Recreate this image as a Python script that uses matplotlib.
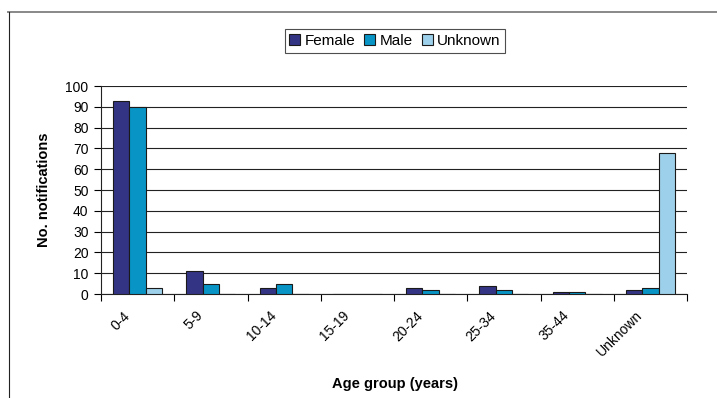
import matplotlib
matplotlib.use("Agg")
import matplotlib.pyplot as plt
from matplotlib.lines import Line2D
from matplotlib.transforms import ScaledTranslation
import numpy as np

plt.rcParams['font.family'] = ['Liberation Sans', 'DejaVu Sans']

age_groups = ["0-4", "5-9", "10-14", "15-19", "20-24", "25-34", "35-44", "Unknown"]
female = [93, 11, 3, 0, 3, 4, 1, 2]
male = [90, 5, 5, 0, 2, 2, 1, 3]
unknown = [3, 0, 0, 0, 0, 0, 0, 68]
series_names = ["Female", "Male", "Unknown"]
series_colors = ["#343485", "#0895C6", "#9DD0EA"]
y_ticks = list(range(0, 101, 10))

W, H = 717, 398
fig = plt.figure(figsize=(W / 100, H / 100), dpi=100)
ax = fig.add_axes([101 / W, 1 - 294 / H, 586 / W, 208 / H])

n = len(age_groups)
x = np.arange(n)
bw = 1 / 4.5  # gap width 150% of a bar
offsets = [-bw, 0, bw]
for vals, off, col, name in zip([female, male, unknown], offsets, series_colors, series_names):
    ax.bar(x + off, vals, width=bw, color=col, edgecolor="#1a1a1a",
           linewidth=0.8, label=name, zorder=3)

ax.set_xlim(-0.5, n - 0.5)
ax.set_ylim(0, 100)
ax.set_yticks(y_ticks)
ax.tick_params(axis='y', labelsize=10, length=5, width=0.8, direction='out', pad=4)
ax.yaxis.grid(True, color="#222222", linewidth=0.8, zorder=0)

# category boundaries carry the tick marks, labels sit at category centres
ax.set_xticks(np.arange(n + 1) - 0.5)
ax.set_xticklabels([])
ax.tick_params(axis='x', length=5, width=0.8, direction='out')
ax.set_xticks(x, minor=True)
ax.set_xticklabels(age_groups, minor=True, rotation=45, ha='right',
                   va='center', rotation_mode='anchor', fontsize=10)
ax.tick_params(axis='x', which='minor', length=0, pad=14)
shift = ScaledTranslation(-10 / 100, 0, fig.dpi_scale_trans)
for lab in ax.get_xticklabels(minor=True):
    lab.set_transform(lab.get_transform() + shift)

for side in ['top', 'right']:
    ax.spines[side].set_visible(False)
for side in ['left', 'bottom']:
    ax.spines[side].set_color("#222222")
    ax.spines[side].set_linewidth(0.8)

ax.set_ylabel("No. notifications", fontsize=10.5, fontweight='bold', labelpad=10)
fig.text(395 / W, 1 - 384 / H, "Age group (years)", fontsize=10.5,
         fontweight='bold', ha='center', va='center')

leg = ax.legend(loc='center', bbox_to_anchor=(395 / W, 1 - 41 / H),
                bbox_transform=fig.transFigure, ncol=3, frameon=True,
                fancybox=False, fontsize=11, handlelength=0.7,
                handleheight=0.7, handletextpad=0.3, columnspacing=0.6,
                borderpad=0.3, borderaxespad=0)
leg.get_frame().set_edgecolor("#222222")
leg.get_frame().set_linewidth(0.8)

# outer frame edges
fig.add_artist(Line2D([8 / W, 1], [1 - 12 / H, 1 - 12 / H], color="#888888",
                      linewidth=1.4, transform=fig.transFigure))
fig.add_artist(Line2D([9 / W, 9 / W], [0, 1 - 12 / H], color="#222222",
                      linewidth=0.8, transform=fig.transFigure))

fig.savefig("out.png", dpi=100)
